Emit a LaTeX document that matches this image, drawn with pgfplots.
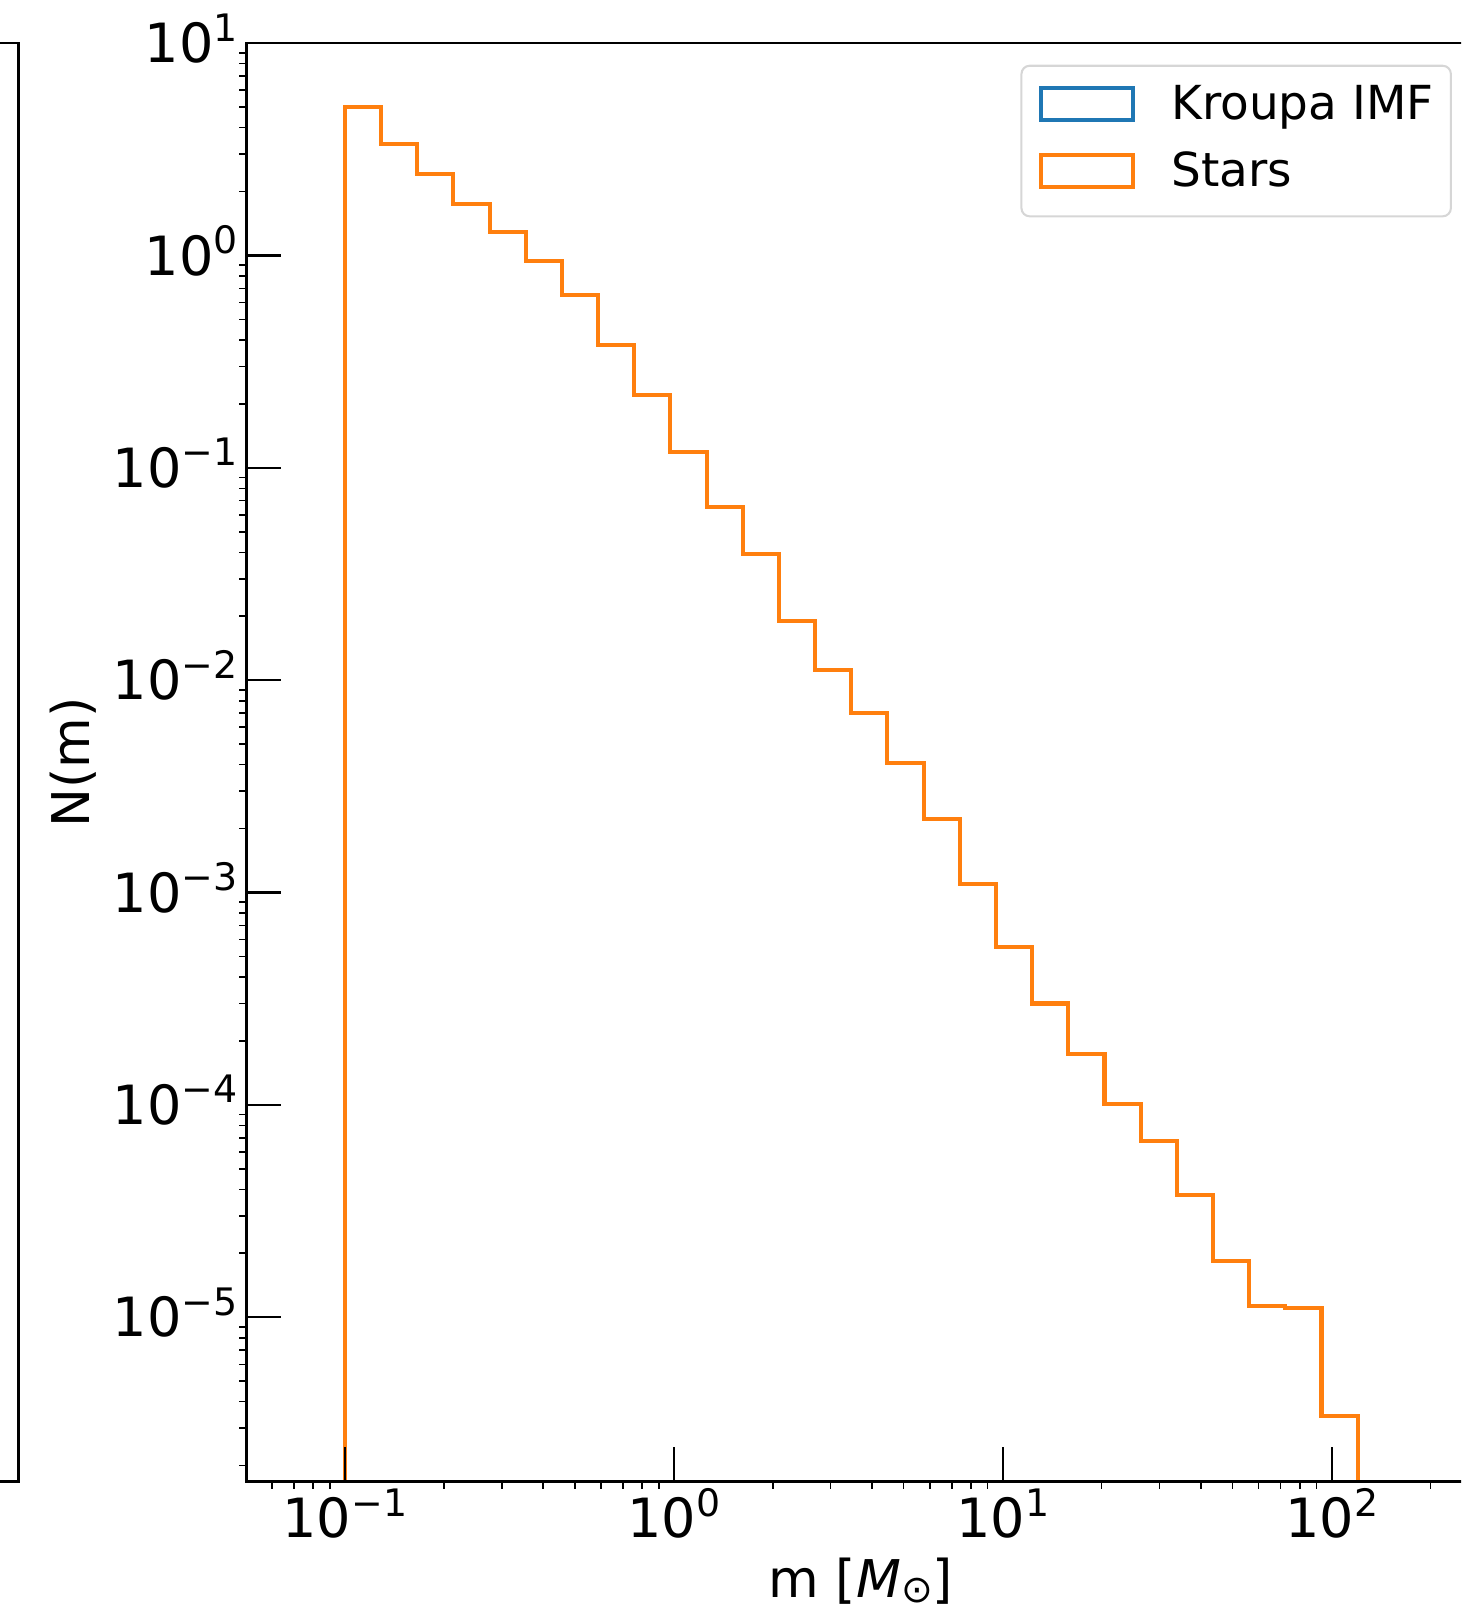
\documentclass[border=0pt]{standalone}
\usepackage{fontspec}
\setmainfont{DejaVu Sans}
\usepackage{pgfplots}
\pgfplotsset{compat=1.18}
\definecolor{mplblue}{HTML}{1F77B4}
\definecolor{mplorange}{HTML}{FF7F0E}
\newcommand{\bigf}{\fontsize{15.8pt}{18pt}\selectfont}
\newcommand{\supf}{\fontsize{11.06pt}{12pt}\selectfont}
\newcommand{\tl}[1]{10\raisebox{6.3pt}{\supf #1}}
\begin{document}
\begin{tikzpicture}
\useasboundingbox (0pt,0pt) rectangle (426.9pt,-470.4pt);
\clip (0pt,0pt) rectangle (426.9pt,-470.4pt);
% left neighbouring panel (only its right edge is visible)
\begin{axis}[
  at={(5.4pt,-12.6pt)}, anchor=north east,
  scale only axis, width=300pt, height=420.3pt,
  xmin=0, xmax=1, ymin=0, ymax=1,
  xtick=\empty, ytick=\empty,
  axis line style={line width=0.75pt},
]
\end{axis}
\begin{axis}[
  at={(72pt,-12.6pt)}, anchor=north west,
  scale only axis, width=359.1pt, height=420.3pt,
  xmode=log, ymode=log,
  xmin=0.0502, xmax=273.8, ymin=1.68e-6, ymax=10,
  axis line style={line width=0.75pt},
  axis on top,
  tick align=inside, xtick pos=bottom, ytick pos=left,
  major tick length=10.2pt, minor tick length=2.1pt,
  every major tick/.append style={line width=0.6pt, black},
  every minor tick/.append style={line width=0.45pt, black},
  minor x tick style={yshift=-2.1pt},
  minor y tick style={xshift=-2.1pt},
  xtick={0.1,1,10,100},
  xticklabels={\tl{−1},\tl{0},\tl{1},\tl{2}},
  ytick={1e-5,1e-4,1e-3,1e-2,1e-1,1,10},
  yticklabels={\tl{−5},\tl{−4},\tl{−3},\tl{−2},\tl{−1},\tl{0},\tl{1}},
  minor xtick={0.06,0.07,0.08,0.09,0.2,0.3,0.4,0.5,0.6,0.7,0.8,0.9,2,3,4,5,6,7,8,9,20,30,40,50,60,70,80,90,200},
  minor ytick={2e-6,3e-6,4e-6,5e-6,6e-6,7e-6,8e-6,9e-6,
    2e-5,3e-5,4e-5,5e-5,6e-5,7e-5,8e-5,9e-5,
    2e-4,3e-4,4e-4,5e-4,6e-4,7e-4,8e-4,9e-4,
    2e-3,3e-3,4e-3,5e-3,6e-3,7e-3,8e-3,9e-3,
    0.02,0.03,0.04,0.05,0.06,0.07,0.08,0.09,
    0.2,0.3,0.4,0.5,0.6,0.7,0.8,0.9,
    2,3,4,5,6,7,8,9},
  xticklabel style={font=\bigf, anchor=base, inner sep=0pt, yshift=-16.4pt},
  yticklabel style={font=\bigf, anchor=base east, inner sep=0pt, xshift=-2.4pt, yshift=-5.76pt},
  xlabel={m [\textit{M}\raisebox{-1.5pt}{\supf ⊙}]},
  ylabel={N(m)},
  xlabel style={font=\fontsize{15.2pt}{18pt}\selectfont, at={(axis description cs:0.5,-0.0692)}, anchor=center},
  ylabel style={font=\fontsize{15.2pt}{18pt}\selectfont, at={(axis description cs:-0.1412,0.5)}, anchor=center},
  legend style={at={(axis description cs:0.9808,0.9850)}, anchor=north east,
    draw=black!16, line width=0.6pt, rounded corners=2.4pt,
    font=\fontsize{13.7pt}{16pt}\selectfont,
    inner xsep=5.1pt, inner ysep=5.4pt,
    /tikz/column sep=10.5pt, /tikz/row sep=6pt,
    nodes={inner sep=0pt, text height=10.3pt, text depth=3.3pt}},
  legend cell align=left,
  legend image code/.code={\draw[#1, line width=1.2pt, sharp corners] (0pt,-3.65pt) rectangle (27pt,5.65pt);},
]
\addplot[mplblue, line width=1.2pt, const plot, line join=miter] coordinates {
(0.1,1e-9) (0.1,5.0) (0.1288,3.35) (0.1660,2.43) (0.2138,1.74) (0.2754,1.29)
(0.3547,0.943) (0.4569,0.653) (0.5886,0.379) (0.7582,0.2196) (0.9766,0.119)
(1.258,0.0653) (1.620,0.0392) (2.087,0.0190) (2.689,0.01114) (3.463,0.00698)
(4.461,0.00409) (5.747,0.00222) (7.403,0.00110) (9.538,0.000552) (12.29,0.000300)
(15.83,0.000174) (20.39,0.0001007) (26.26,6.75e-5) (33.83,3.78e-5) (43.58,1.84e-5)
(56.14,1.125e-5) (72.32,1.10e-5) (93.16,3.42e-6) (120.0,3.42e-6) (120.0,1e-9)};
\addlegendentry{Kroupa IMF}
\addplot[mplorange, line width=1.2pt, const plot, line join=miter] coordinates {
(0.1,1e-9) (0.1,5.0) (0.1288,3.35) (0.1660,2.43) (0.2138,1.74) (0.2754,1.29)
(0.3547,0.943) (0.4569,0.653) (0.5886,0.379) (0.7582,0.2196) (0.9766,0.119)
(1.258,0.0653) (1.620,0.0392) (2.087,0.0190) (2.689,0.01114) (3.463,0.00698)
(4.461,0.00409) (5.747,0.00222) (7.403,0.00110) (9.538,0.000552) (12.29,0.000300)
(15.83,0.000174) (20.39,0.0001007) (26.26,6.75e-5) (33.83,3.78e-5) (43.58,1.84e-5)
(56.14,1.125e-5) (72.32,1.10e-5) (93.16,3.42e-6) (120.0,3.42e-6) (120.0,1e-9)};
\addlegendentry{Stars}
\end{axis}
\end{tikzpicture}
\end{document}
